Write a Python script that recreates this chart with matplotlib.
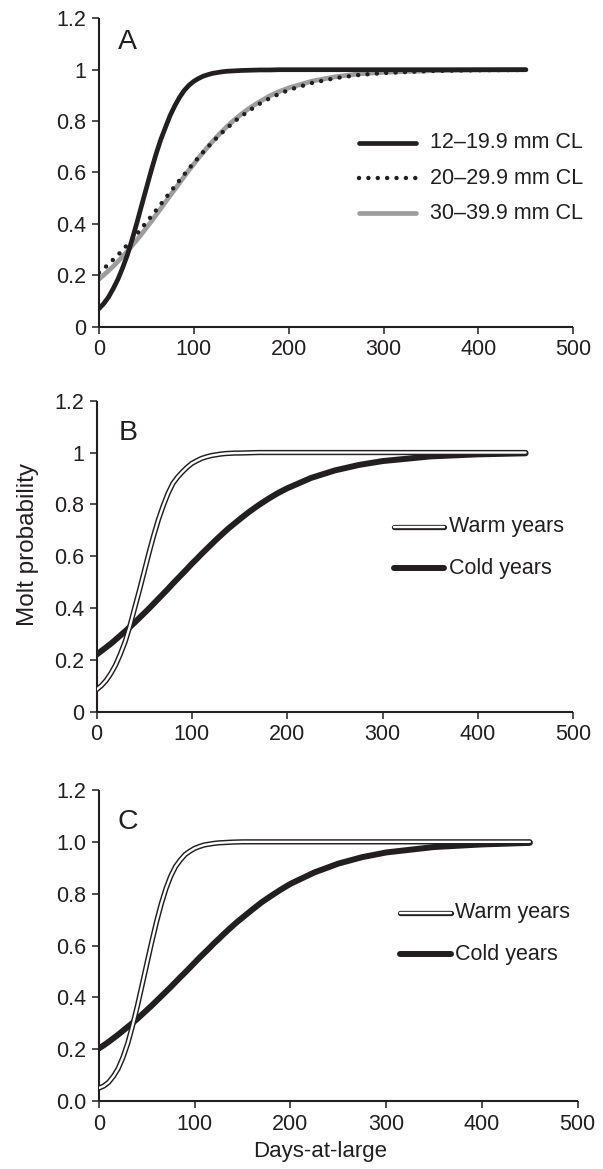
import matplotlib
matplotlib.use("Agg")
import matplotlib.pyplot as plt
import matplotlib.patheffects as pe

plt.rcParams['font.family'] = ['Liberation Sans', 'DejaVu Sans']

INK = '#231f20'
GRAY = '#9d9d9d'

# ---- data ----
days = [0, 5, 10, 15, 20, 25, 30, 35, 40, 45, 50, 55, 60, 65, 70, 75, 80, 85, 90, 95,
        100, 105, 110, 115, 120, 125, 130, 135, 140, 145, 150,
        160, 170, 180, 190, 200, 225, 250, 275, 300, 350, 400, 450]

a_12_19 = [0.07, 0.09, 0.115, 0.148, 0.185, 0.23, 0.28, 0.34, 0.405, 0.473, 0.54,
           0.607, 0.67, 0.727, 0.775, 0.822, 0.86, 0.893, 0.92, 0.94, 0.955, 0.966,
           0.975, 0.981, 0.986, 0.989, 0.992, 0.994, 0.995, 0.996, 0.997,
           0.998, 0.999, 0.999, 1.0, 1.0,
           1.0, 1.0, 1.0, 1.0, 1.0, 1.0, 1.0]
a_20_29 = [0.21, 0.226, 0.243, 0.261, 0.279, 0.299, 0.319, 0.340, 0.361, 0.384, 0.406,
           0.429, 0.452, 0.476, 0.50, 0.523, 0.547, 0.570, 0.593, 0.616, 0.638, 0.659,
           0.680, 0.700, 0.720, 0.738, 0.756, 0.773, 0.789, 0.805, 0.819,
           0.845, 0.869, 0.889, 0.906, 0.921,
           0.949, 0.968, 0.980, 0.987, 0.995, 0.998, 0.999]
a_30_39 = [0.185, 0.201, 0.218, 0.235, 0.254, 0.274, 0.294, 0.316, 0.338, 0.361, 0.385,
           0.409, 0.434, 0.459, 0.485, 0.510, 0.535, 0.560, 0.585, 0.610, 0.633, 0.657,
           0.679, 0.701, 0.722, 0.742, 0.761, 0.779, 0.796, 0.812, 0.827,
           0.854, 0.877, 0.898, 0.915, 0.929,
           0.956, 0.973, 0.984, 0.990, 0.996, 0.999, 1.0]

b_warm = [0.085, 0.10, 0.12, 0.147, 0.18, 0.222, 0.27, 0.33, 0.40, 0.468, 0.54,
          0.612, 0.68, 0.742, 0.795, 0.842, 0.88, 0.905, 0.925, 0.943, 0.958, 0.968,
          0.977, 0.983, 0.988, 0.991, 0.994, 0.996, 0.997, 0.998, 0.998,
          0.999, 1.0, 1.0, 1.0, 1.0,
          1.0, 1.0, 1.0, 1.0, 1.0, 1.0, 1.0]
b_cold = [0.22, 0.234, 0.248, 0.262, 0.278, 0.294, 0.310, 0.327, 0.344, 0.362, 0.380,
          0.398, 0.417, 0.436, 0.455, 0.474, 0.494, 0.513, 0.532, 0.551, 0.571, 0.589,
          0.608, 0.626, 0.644, 0.662, 0.679, 0.696, 0.712, 0.727, 0.742,
          0.771, 0.797, 0.821, 0.843, 0.862,
          0.902, 0.931, 0.952, 0.967, 0.985, 0.993, 0.997]

c_warm = [0.05, 0.058, 0.072, 0.095, 0.125, 0.168, 0.222, 0.29, 0.365, 0.447, 0.53,
          0.612, 0.69, 0.76, 0.82, 0.868, 0.905, 0.93, 0.951, 0.964, 0.975, 0.982,
          0.988, 0.991, 0.994, 0.996, 0.997, 0.998, 0.999, 0.9995, 1.0,
          1.0, 1.0, 1.0, 1.0, 1.0,
          1.0, 1.0, 1.0, 1.0, 1.0, 1.0, 1.0]
c_cold = [0.203, 0.215, 0.228, 0.242, 0.256, 0.271, 0.286, 0.301, 0.317, 0.334, 0.351,
          0.368, 0.386, 0.404, 0.422, 0.440, 0.459, 0.478, 0.496, 0.515, 0.534, 0.553,
          0.571, 0.589, 0.608, 0.625, 0.643, 0.660, 0.677, 0.693, 0.708,
          0.738, 0.767, 0.792, 0.816, 0.838,
          0.882, 0.916, 0.941, 0.959, 0.980, 0.990, 0.996]

labels_a = ['12\u201319.9 mm CL', '20\u201329.9 mm CL', '30\u201339.9 mm CL']
labels_bc = ['Warm years', 'Cold years']
panel_letters = ['A', 'B', 'C']
x_ticks = [0, 100, 200, 300, 400, 500]
y_ticks = [0, 0.2, 0.4, 0.6, 0.8, 1.0, 1.2]
y_labels_ab = ['0', '0.2', '0.4', '0.6', '0.8', '1', '1.2']
y_labels_c = ['0.0', '0.2', '0.4', '0.6', '0.8', '1.0', '1.2']

for s in [a_12_19, a_20_29, a_30_39, b_warm, b_cold, c_warm, c_cold]:
    assert len(s) == len(days)

W, H = 603, 1169
fig = plt.figure(figsize=(W / 100, H / 100), dpi=100)

def px_axes(left, right, top, bottom):
    return fig.add_axes([left / W, 1 - bottom / H, (right - left) / W, (bottom - top) / H])

axA = px_axes(99, 573.3, 18.3, 326.7)
axB = px_axes(96.5, 573.3, 400.7, 711.7)
axC = px_axes(99, 577.7, 790, 1101)

TICK_FS = 15.5
for ax, ylab in zip([axA, axB, axC], [y_labels_ab, y_labels_ab, y_labels_c]):
    ax.set_xlim(0, 500)
    ax.set_ylim(0, 1.2)
    ax.set_xticks(x_ticks)
    ax.set_xticklabels([str(t) for t in x_ticks])
    ax.set_yticks(y_ticks)
    ax.set_yticklabels(ylab)
    for s in ['top', 'right']:
        ax.spines[s].set_visible(False)
    for s in ['left', 'bottom']:
        ax.spines[s].set_linewidth(1.5)
        ax.spines[s].set_color(INK)
        ax.spines[s].set_capstyle('butt')
    ax.tick_params(direction='out', length=5, width=1.1, color=INK,
                   labelsize=TICK_FS, labelcolor=INK, pad=4)
    ax.patch.set_visible(False)

warm_fx = [pe.Stroke(linewidth=3.8, foreground=INK, capstyle='round'), pe.Normal()]
DOTS = (0, (0.01, 2.1))

# Panel A
axA.plot(days, a_12_19, color=INK, lw=3.4, solid_capstyle='round', zorder=3)
axA.plot(days, a_30_39, color=GRAY, lw=3.4, solid_capstyle='round', zorder=2)
axA.plot(days, a_20_29, color=INK, lw=3.2, linestyle=DOTS,
         dash_capstyle='round', zorder=4)

# Panel B
axB.plot(days, b_cold, color=INK, lw=4.3, solid_capstyle='round', zorder=2)
axB.plot(days, b_warm, color='white', lw=1.7, solid_capstyle='round',
         path_effects=warm_fx, zorder=3)

# Panel C
axC.plot(days, c_cold, color=INK, lw=4.3, solid_capstyle='round', zorder=2)
axC.plot(days, c_warm, color='white', lw=1.7, solid_capstyle='round',
         path_effects=warm_fx, zorder=3)

# Legends (positions in axes fraction)
LEG_FS = 15.5
def leg_entry(ax, x0, x1, xt, y, label, **kw):
    ax.plot([x0, x1], [y, y], transform=ax.transAxes, clip_on=False, **kw)
    ax.text(xt, y, label, transform=ax.transAxes, fontsize=LEG_FS, color=INK,
            va='center', ha='left')

def fx(ax_left, ax_w, px):
    return (px - ax_left) / ax_w

def fy(ax_bottom, ax_h, py):
    return (ax_bottom - py) / ax_h

# A legend
aL, aW, aB, aH = 99, 474.3, 326.7, 308.4
ys = [143, 178.3, 213.3]
leg_entry(axA, fx(aL, aW, 359), fx(aL, aW, 416), fx(aL, aW, 430), fy(aB, aH, ys[0]),
          labels_a[0], color=INK, lw=3.4, solid_capstyle='round')
leg_entry(axA, fx(aL, aW, 359), fx(aL, aW, 416), fx(aL, aW, 430), fy(aB, aH, ys[1]),
          labels_a[1], color=INK, lw=3.2, linestyle=DOTS, dash_capstyle='round')
leg_entry(axA, fx(aL, aW, 359), fx(aL, aW, 416), fx(aL, aW, 430), fy(aB, aH, ys[2]),
          labels_a[2], color=GRAY, lw=3.4, solid_capstyle='round')

# B legend
bL, bW, bB, bH = 96.5, 476.8, 711.7, 311
leg_entry(axB, fx(bL, bW, 394), fx(bL, bW, 444), fx(bL, bW, 449), fy(bB, bH, 526.7),
          labels_bc[0], color='white', lw=1.7, solid_capstyle='round', path_effects=warm_fx)
leg_entry(axB, fx(bL, bW, 394), fx(bL, bW, 444), fx(bL, bW, 449), fy(bB, bH, 568.3),
          labels_bc[1], color=INK, lw=4.3, solid_capstyle='round')

# C legend
cL, cW, cB, cH = 99, 478.7, 1101, 311
leg_entry(axC, fx(cL, cW, 400), fx(cL, cW, 451), fx(cL, cW, 455), fy(cB, cH, 912.7),
          labels_bc[0], color='white', lw=1.7, solid_capstyle='round', path_effects=warm_fx)
leg_entry(axC, fx(cL, cW, 400), fx(cL, cW, 451), fx(cL, cW, 455), fy(cB, cH, 954.3),
          labels_bc[1], color=INK, lw=4.3, solid_capstyle='round')

# Panel letters
for ax, letter, (x, y) in zip([axA, axB, axC], panel_letters,
                              [(0.061, 0.923), (0.066, 0.896), (0.06, 0.898)]):
    ax.text(x, y, letter, transform=ax.transAxes, fontsize=20.5, color=INK,
            ha='center', va='center')

axB.set_ylabel('Molt probability', fontsize=17.5, color=INK)
axB.yaxis.set_label_coords(fx(bL, bW, 28), fy(bB, bH, 545))
axB.yaxis.label.set_va('center')

axC.set_xlabel('Days-at-large', fontsize=16, color=INK)
axC.xaxis.set_label_coords(fx(cL, cW, 320), fy(cB, cH, 1152))
axC.xaxis.label.set_va('center')

fig.savefig('out.png', dpi=100)
